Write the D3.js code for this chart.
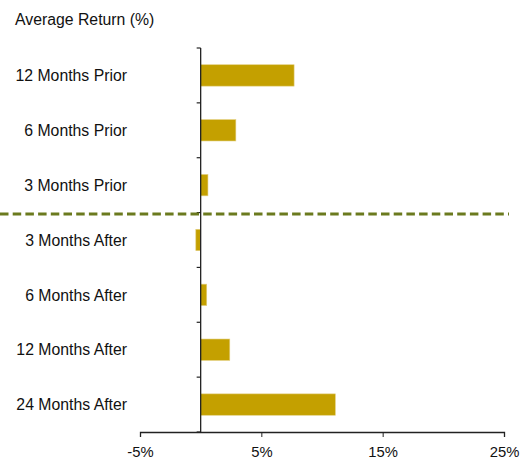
<!DOCTYPE html>
<html><head><meta charset="utf-8">
<script src="https://cdn.jsdelivr.net/npm/d3@7"></script>
<style>body{margin:0;background:#fff}svg{display:block}text{font-family:"Liberation Sans",Arial,sans-serif;fill:#111}</style>
</head><body><svg id="c" width="527" height="462"></svg>
<script>
const categories = ["12 Months Prior","6 Months Prior","3 Months Prior","3 Months After","6 Months After","12 Months After","24 Months After"];
const values = [7.7, 2.9, 0.6, -0.4, 0.5, 2.4, 11.1];
const tickValues = [-5, 5, 15, 25];
const title = "Average Return (%)";
const dividerAfter = "3 Months Prior";

const svg = d3.select("#c");
const x = d3.scaleLinear().domain([-5, 25]).range([140, 504]);
const y = d3.scaleBand().domain(categories).range([48, 432]).paddingInner(0.61).paddingOuter(0.305);

svg.append("text").attr("x", 15).attr("y", 25).attr("font-size", 15.8).text(title);

// bars
svg.append("g").selectAll("rect").data(values).join("rect")
  .attr("x", d => x(Math.min(0, d)))
  .attr("width", d => Math.abs(x(d) - x(0)))
  .attr("y", (d, i) => y(categories[i]))
  .attr("height", y.bandwidth())
  .attr("fill", "#c4a000")
  .attr("stroke", "#e3cf80").attr("stroke-width", 0.6);

// x axis
const xa = svg.append("g").attr("transform", "translate(0,432)")
  .call(d3.axisBottom(x).tickValues(tickValues).tickFormat(d => d + "%").tickSize(5));
xa.select(".domain").attr("stroke", "#222").attr("stroke-width", 1.3);
xa.selectAll(".tick line").attr("stroke", "#222");
xa.selectAll("text").attr("font-size", 14.8).attr("fill", "#111").attr("y", 25).attr("dy", 0);

// y axis at zero
const boundaries = d3.range(categories.length + 1).map(i => 48 + i * (384 / categories.length));
const ya = svg.append("g");
ya.append("line").attr("x1", x(0)).attr("x2", x(0)).attr("y1", 48).attr("y2", 432)
  .attr("stroke", "#222").attr("stroke-width", 1.3);
ya.selectAll("line.t").data(boundaries).join("line").attr("class", "t")
  .attr("x1", x(0) - 4).attr("x2", x(0)).attr("y1", d => d).attr("y2", d => d)
  .attr("stroke", "#222").attr("stroke-width", 1.2);

// category labels
svg.append("g").selectAll("text").data(categories).join("text")
  .attr("x", 127).attr("y", d => y(d) + y.bandwidth() / 2)
  .attr("dy", "0.36em").attr("text-anchor", "end").attr("font-size", 15.8)
  .text(d => d);

// divider
const idx = categories.indexOf(dividerAfter);
const dy = boundaries[idx + 1] + 1.5;
svg.append("line").attr("x1", 0).attr("x2", 509).attr("y1", dy).attr("y2", dy)
  .attr("stroke", "#6b7a1e").attr("stroke-width", 3).attr("stroke-dasharray", "8.5,4.2");
</script></body></html>
